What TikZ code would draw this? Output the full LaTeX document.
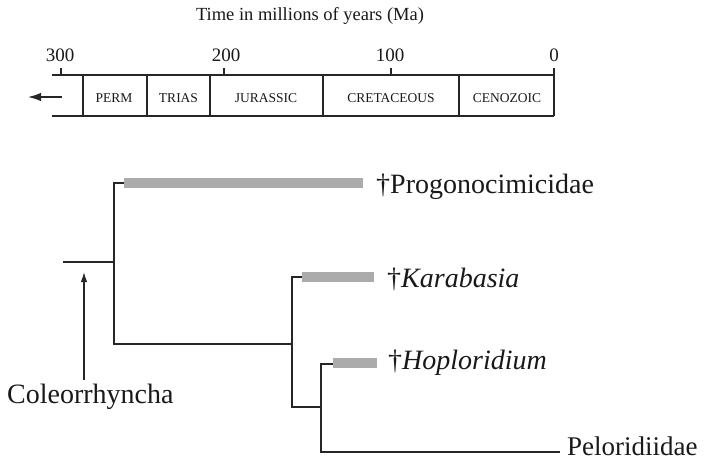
\documentclass[tikz,border=0pt]{standalone}
\usepackage{fontspec}
\setmainfont{Liberation Serif}
\usetikzlibrary{arrows.meta}
\begin{document}
\begin{tikzpicture}[x=1pt,y=-1pt,
  branch/.style={line width=1.6pt, draw=black!85},
  scaleline/.style={line width=1.5pt, draw=black!85},
  rangebar/.style={fill=black!33, draw=none, inner sep=0pt, minimum height=10pt, anchor=west},
  taxon/.style={anchor=base west, inner sep=0pt, text=black!90, font=\fontsize{28}{30}\selectfont},
  period/.style={anchor=base, inner sep=0pt, text=black!90, font=\fontsize{13.5}{15}\selectfont},
  ticklabel/.style={anchor=base, inner sep=0pt, text=black!90, font=\fontsize{19}{21}\selectfont},
  titlelabel/.style={anchor=base, inner sep=0pt, text=black!90, font=\fontsize{18.5}{20}\selectfont},
  pointer/.style={line width=1.3pt, draw=black!85, -{Latex[length=10pt,width=6.5pt]}},
]
\useasboundingbox (0,0) rectangle (707,461);

% ---------- time scale ----------
\node[titlelabel] (title) at (310,20) {Time in millions of years (Ma)};

\coordinate (tl) at (52,75);
\coordinate (tr) at (554,75);
\coordinate (bl) at (52,116);
\coordinate (br) at (554,116);
\draw[scaleline] (tl) -- (tr);
\draw[scaleline] (bl) -- (br);

\foreach \xx/\nm in {83/b1,147/b2,210/b3,323/b4,459/b5}{
  \coordinate (\nm t) at (\xx,75);
  \coordinate (\nm b) at (\xx,116);
  \draw[scaleline] (\nm t) -- (\nm b);
}
\coordinate (t0top) at (554,68);
\draw[scaleline] (t0top) -- (br);

\foreach \xx/\nm in {61/t300,224/t200,391/t100}{
  \coordinate (\nm top) at (\xx,68);
  \coordinate (\nm bot) at (\xx,75);
  \draw[scaleline] (\nm top) -- (\nm bot);
}

\node[ticklabel] (l300) at (60,61) {300};
\node[ticklabel] (l200) at (226,61) {200};
\node[ticklabel] (l100) at (390,61) {100};
\node[ticklabel] (l0) at (554,61) {0};

\node[period] (perm) at (114,102) {PERM};
\node[period] (trias) at (178.5,102) {TRIAS};
\node[period] (jura) at (266,102) {JURASSIC};
\node[period] (creta) at (391,102) {CRETACEOUS};
\node[period] (ceno) at (507,102) {CENOZOIC};

\coordinate (pastfrom) at (62,97);
\coordinate (pastto) at (28,97);
\draw[line width=1.5pt, draw=black!85, -{Latex[length=13pt,width=8.5pt]}] (pastfrom) -- (pastto);

% ---------- tree ----------
\coordinate (root) at (63,262);
\coordinate (n1) at (114,262);
\coordinate (n2) at (292,344);
\coordinate (n3) at (321,407);

\node[rangebar, minimum width=239pt] (progbar) at (124,183) {};
\node[rangebar, minimum width=72pt] (karabar) at (302,277) {};
\node[rangebar, minimum width=44pt] (hoplobar) at (333,363) {};
\coordinate (peloend) at (560,452);

\draw[branch] (root) -- (n1);
\draw[branch] (n1) |- (progbar.west);
\draw[branch] (n1) |- (n2);
\draw[branch] (n2) |- (karabar.west);
\draw[branch] (n2) |- (n3);
\draw[branch] (n3) |- ([yshift=-1pt]hoplobar.west);
\draw[branch] (n3) |- (peloend);

\node[taxon] (prog) at (376,193) {†Progonocimicidae};
\node[taxon] (kara) at (387,287) {†\textit{Karabasia}};
\node[taxon] (hoplo) at (388,369) {†\textit{Hoploridium}};
\node[taxon, font=\fontsize{27}{30}\selectfont] (pelo) at (567,455) {Peloridiidae};
\node[taxon] (coleo) at (7,403) {Coleorrhyncha};

\coordinate (coleotail) at (84,380);
\coordinate (coleotip) at (84,272);
\draw[pointer] (coleotail) -- (coleotip);
\end{tikzpicture}
\end{document}
